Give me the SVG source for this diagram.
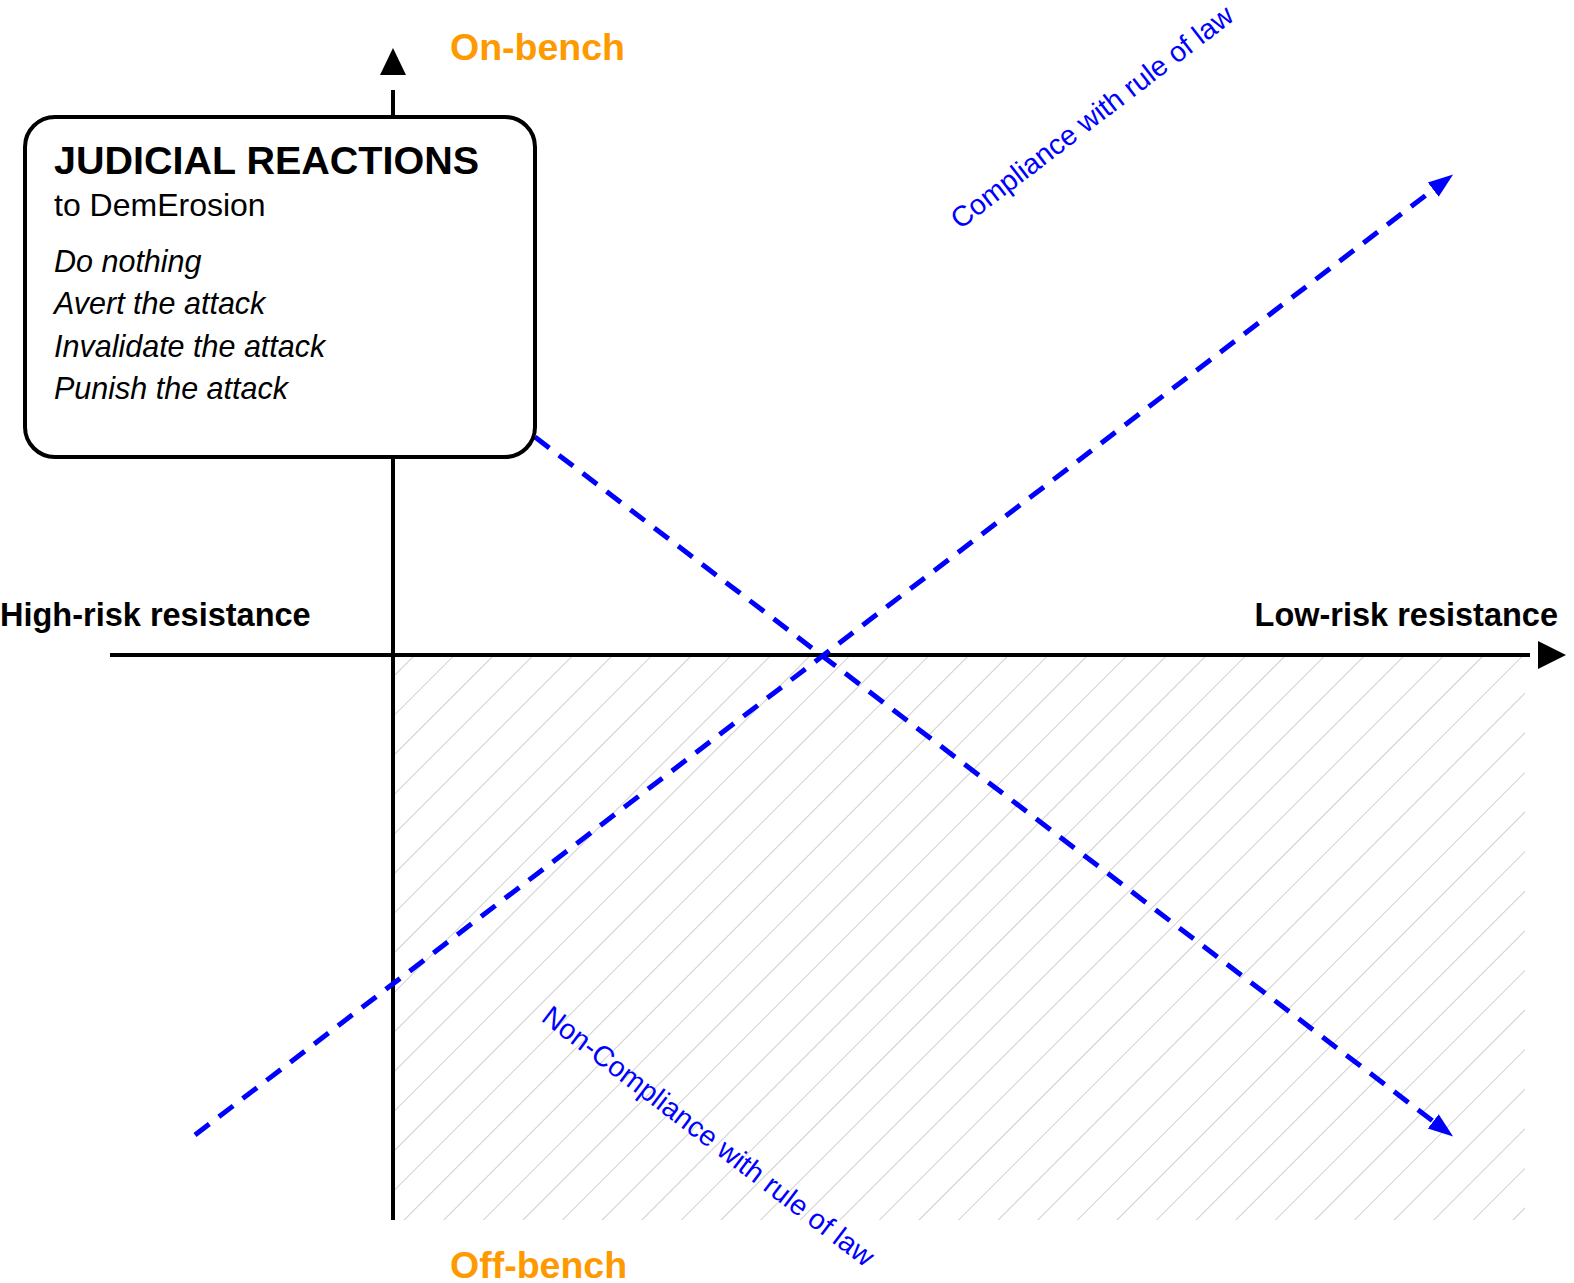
<svg xmlns="http://www.w3.org/2000/svg" width="1574" height="1283" viewBox="0 0 1574 1283">
<style>
text{font-family:"Liberation Sans",Arial,sans-serif}
.ax{stroke:#000;stroke-width:4;fill:none}
.dl{stroke:#0000ff;stroke-width:5;stroke-dasharray:18 12;fill:none}
.or{fill:#ff9900;font-weight:bold;font-size:37.5px}
.bl{fill:#0000ff;font-size:28.5px}
.lb{font-weight:bold;font-size:32.5px}
.it{font-style:italic;font-size:30.5px}
</style>
<defs>
<pattern id="h" width="28" height="28" patternUnits="userSpaceOnUse" patternTransform="rotate(45)">
<line x1="0" y1="0" x2="0" y2="28" stroke="#d0d0d0" stroke-width="2"/>
</pattern>
<marker id="ba" markerWidth="26" markerHeight="20" refX="6" refY="10" orient="auto" markerUnits="userSpaceOnUse"><path d="M0,1 L25,10 L0,19 Z" fill="#0000ff"/></marker>
</defs>
<rect x="395" y="657" width="1130" height="563" fill="url(#h)"/>
<g id="connectors">
<line class="ax" x1="393" y1="1220" x2="393" y2="90"/>
<path d="M380,75 L393,48 L406,75 Z"/>
<line class="ax" x1="110" y1="655" x2="1530" y2="655"/>
<path d="M1538,641 L1566,655 L1538,669 Z"/>
<line class="dl" x1="195" y1="1135" x2="1438" y2="186" marker-end="url(#ba)"/>
<line class="dl" x1="535" y1="437" x2="1438" y2="1125" marker-end="url(#ba)"/>
</g>
<g id="box">
<rect x="25" y="117" width="510" height="340" rx="30" fill="#fff" stroke="#000" stroke-width="4"/>
<text x="54" y="174" font-size="39.5" font-weight="bold">JUDICIAL REACTIONS</text>
<text x="54" y="216" font-size="32">to DemErosion</text>
<text class="it" x="54" y="272">Do nothing</text>
<text class="it" x="54" y="314">Avert the attack</text>
<text class="it" x="54" y="357">Invalidate the attack</text>
<text class="it" x="54" y="399">Punish the attack</text>
</g>
<g id="labels">
<text class="or" x="450" y="60">On-bench</text>
<text class="or" x="450" y="1278">Off-bench</text>
<text class="lb" x="0" y="626">High-risk resistance</text>
<text class="lb" x="1558" y="626" text-anchor="end">Low-risk resistance</text>
<text class="bl" transform="translate(960,230) rotate(-37.4)">Compliance with rule of law</text>
<text class="bl" transform="translate(540,1020) rotate(37.3)">Non-Compliance with rule of law</text>
</g>
</svg>
